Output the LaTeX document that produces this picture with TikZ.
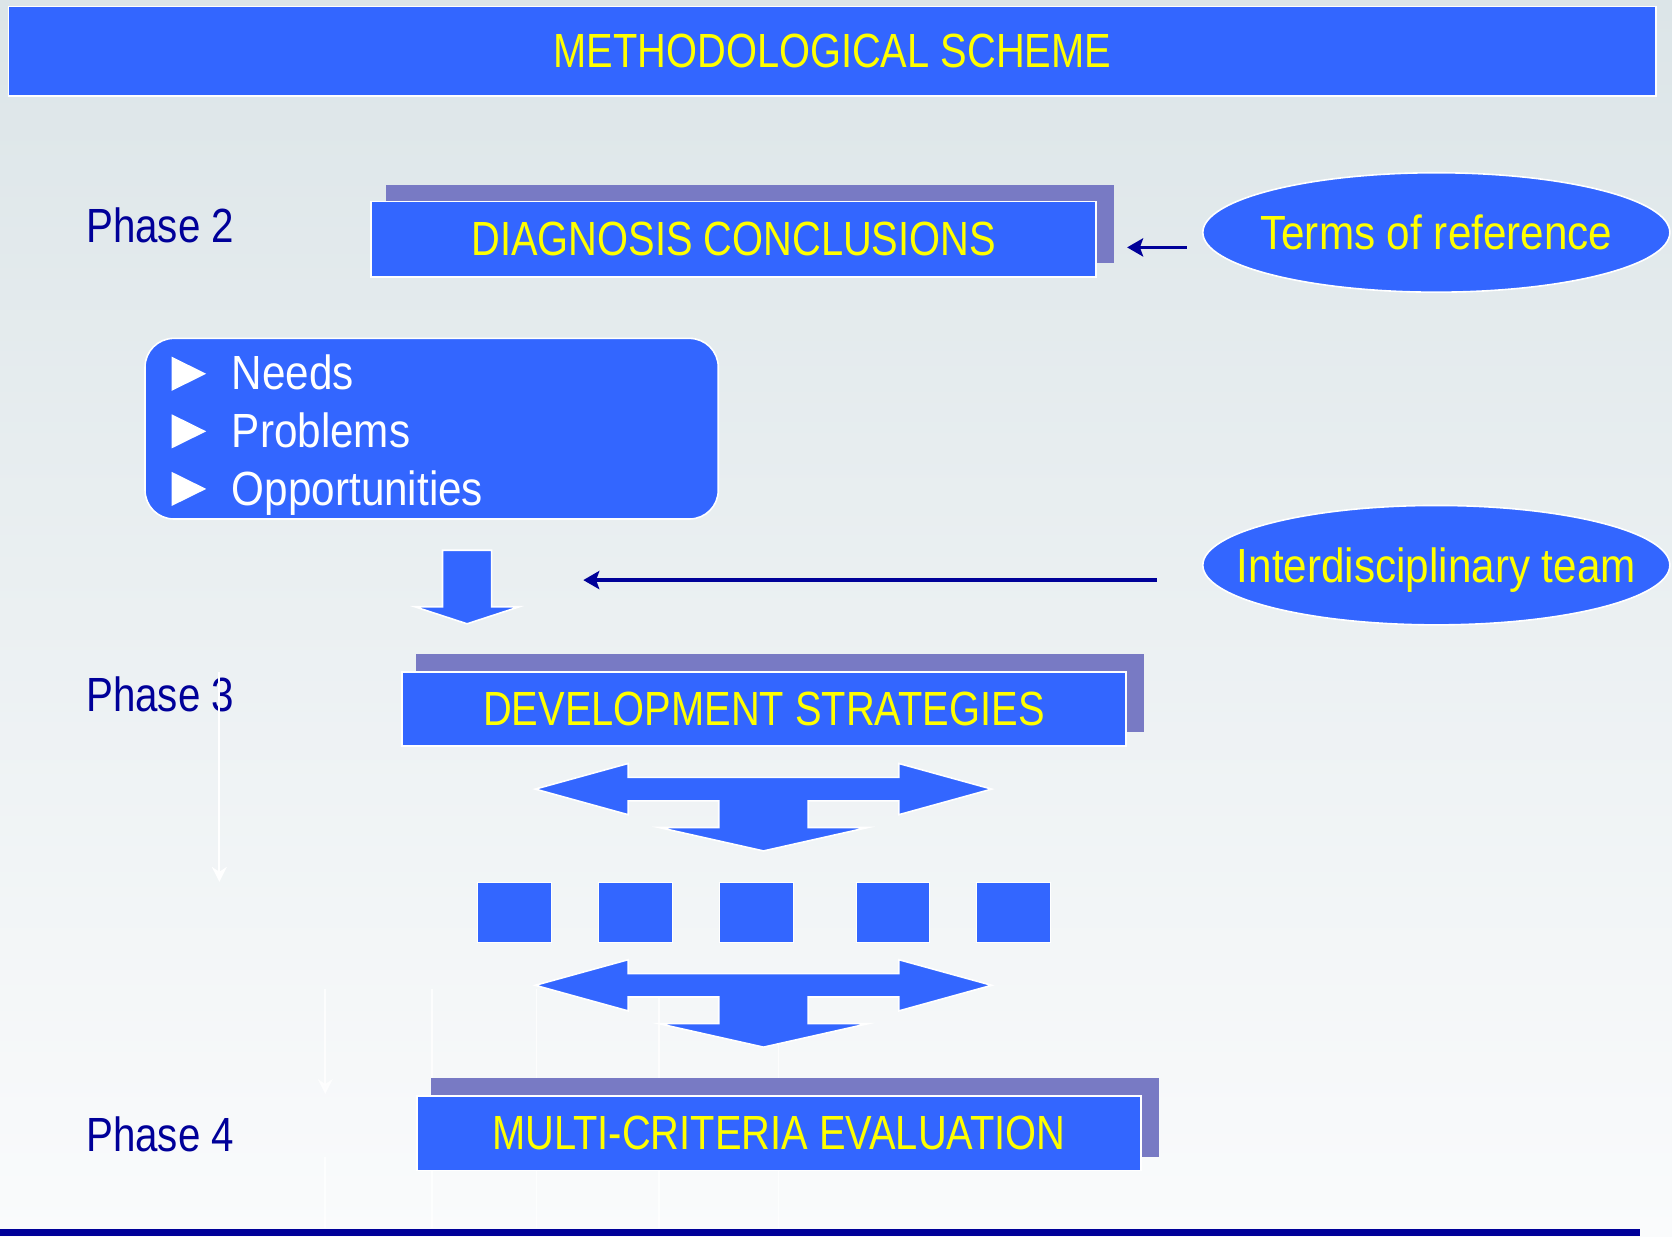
\documentclass[tikz,border=0pt]{standalone}
\usepackage{fontspec}
\setmainfont{Liberation Sans}[FakeStretch=0.84]
\newfontfamily\capsfont{Liberation Sans}[FakeStretch=0.83]
\newfontfamily\wordfont{Liberation Sans}[FakeStretch=0.88]
\usetikzlibrary{shapes.geometric,arrows.meta,positioning}
\definecolor{boxblue}{RGB}{51,102,255}
\definecolor{shadowpurple}{RGB}{120,122,196}
\definecolor{phaseblue}{RGB}{0,0,153}
\definecolor{textyellow}{RGB}{255,255,0}
\definecolor{bgtop}{RGB}{220,229,232}
\definecolor{bgbottom}{RGB}{250,251,252}
\newcommand{\slidesize}{\fontsize{45}{54}\selectfont}
\tikzset{
  bar/.style={rectangle, fill=boxblue, draw=white, line width=1.5pt, text=textyellow, inner sep=0pt, font=\slidesize\capsfont},
  source/.style={ellipse, fill=boxblue, draw=white, line width=1.5pt, minimum width=438pt, minimum height=112pt, inner sep=0pt},
  sourcetext/.style={text=textyellow, inner sep=0pt, text depth=0pt, font=\slidesize\wordfont},
  phase/.style={anchor=base west, inner sep=0pt, text=phaseblue},
  link/.style={draw=phaseblue, line width=3pt, -{Stealth[length=15pt,width=17pt,inset=3pt]}},
  ghost/.style={draw=white, line width=1.5pt, opacity=0.8},
  blockarrow/.style={fill=boxblue, draw=white, line width=1.5pt, line join=miter},
  sqbox/.style={rectangle, fill=boxblue, draw=white, line width=1pt, minimum width=69pt, minimum height=56pt}
}

\begin{document}
\begin{tikzpicture}[x=1pt, y=-1pt, font=\slidesize]
    \useasboundingbox (0,0) rectangle (1568,1160);
    \shade[top color=bgtop, bottom color=bgbottom] (0,0) rectangle (1568,1160);
    % faint white guides
    \foreach \x in {405,503,618,730}
        \draw[ghost] (\x,927) -- (\x,1152);
    \draw[ghost, -{Stealth[length=14pt,width=14pt]}] (305,927) -- (305,1026);
    \draw[ghost] (305,1085) -- (305,1152);
    % title
    \node[bar, minimum width=1545pt, minimum height=84pt] (title) at (780.5,48) {METHODOLOGICAL SCHEME};
    % phase 2
    \node[phase] (phase2) at (80.7,227.6) {Phase 2};
    \fill[shadowpurple] (362,173.5) rectangle (1045,247);
    \node[bar, minimum width=680pt, minimum height=70.5pt] (diag) at (688,224.3) {DIAGNOSIS CONCLUSIONS};
    \node[source, label={[sourcetext]center:Terms of reference}] (terms) at (1347,218) {};
    \coordinate (termsout) at (1113,232);
    \coordinate (diagin) at (1057,232);
    \draw[link] (termsout) -- (diagin);
    % needs, problems, opportunities
    \node[rectangle, rounded corners=27pt, fill=boxblue, draw=white, line width=1.5pt, minimum width=537.6pt, minimum height=169.4pt] (issues) at (404.8,402) {};
    \foreach \entry [count=\i] in {Needs,Problems,Opportunities} {
        \fill[white] (161,280.5+54*\i) -- (193.4,296.5+54*\i) -- (161,312.5+54*\i) -- cycle;
        \node[anchor=base west, inner sep=0pt, text=white, font=\slidesize\wordfont] (entry\i) at (217.3,311.6+54*\i) {\entry};
    }
    \draw[blockarrow] (415,516) -- (461,516) -- (461,569) -- (487,569) -- (438,585) -- (389,569) -- (415,569) -- cycle;
    \node[source, label={[sourcetext]center:Interdisciplinary team}] (team) at (1347,530) {};
    \coordinate (teamout) at (1085,544);
    \coordinate (teamin) at (547,544);
    \draw[link] (teamout) -- (teamin);
    % phase 3
    \node[phase] (phase3) at (80.7,667.4) {Phase 3};
    \draw[ghost, line width=2pt, opacity=1, -{Stealth[length=14pt,width=14pt]}] (205.7,630) -- (205.7,827);
    \fill[shadowpurple] (390,613.6) rectangle (1073,686);
    \node[bar, minimum width=679.3pt, minimum height=69.6pt] (dev) at (716.4,664.8) {DEVELOPMENT STRATEGIES};
    \foreach \y in {740,924}
        \draw[blockarrow, shift={(716,\y)}] (-214,0) -- (-127,-24) -- (-127,-11) -- (127,-11) -- (127,-24) -- (214,0)
            -- (127,24) -- (127,11) -- (42,11) -- (42,36) -- (98,36) -- (0,58) -- (-98,36) -- (-42,36) -- (-42,11)
            -- (-127,11) -- (-127,24) -- cycle;
    \foreach \x [count=\i] in {482.5,596,709.5,837.5,950.5}
        \node[sqbox] (option\i) at (\x,856) {};
    % phase 4
    \node[phase] (phase4) at (80.7,1080.2) {Phase 4};
    \fill[shadowpurple] (404,1011.2) rectangle (1087,1084.7);
    \node[bar, minimum width=679pt, minimum height=70pt] (multi) at (730.5,1062.6) {MULTI-CRITERIA EVALUATION};
    \fill[phaseblue] (0,1152.2) rectangle (1538,1159);
\end{tikzpicture}
\end{document}
